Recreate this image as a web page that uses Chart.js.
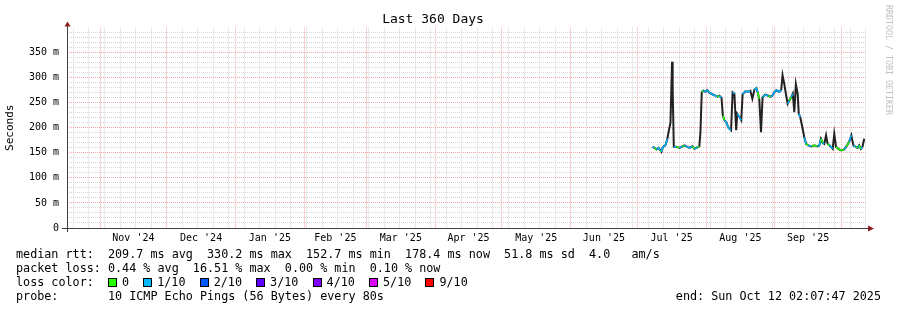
<!DOCTYPE html>
<html>
<head>
<meta charset="utf-8">
<script src="https://cdn.jsdelivr.net/npm/chart.js@4/dist/chart.umd.min.js"></script>
<style>
  body { margin: 0; background: #fff; }
  #app { position: relative; width: 897px; height: 310px; overflow: hidden; }
  #grafico { position: absolute; left: 0; top: 0; }
  .leg {
    position: absolute; left: 16px; white-space: pre; color: #000;
    font: 11.75px "DejaVu Sans Mono", monospace; line-height: 14px;
  }
  .caixa {
    display: inline-block; box-sizing: border-box; width: 9px; height: 9px;
    border: 1px solid #000; margin-right: 5px; vertical-align: -1px;
  }
</style>
</head>
<body>
<div id="app">
  <canvas id="grafico" width="897" height="310"></canvas>
  <div class="leg" style="top:247px">median rtt:  209.7 ms avg  330.2 ms max  152.7 ms min  178.4 ms now  51.8 ms sd  4.0   am/s</div>
  <div class="leg" style="top:261px">packet loss: 0.44 % avg  16.51 % max  0.00 % min  0.10 % now</div>
  <div class="leg" id="legPerda" style="top:275px"></div>
  <div class="leg" style="top:289px">probe:       10 ICMP Echo Pings (56 Bytes) every 80s</div>
  <div class="leg" style="top:289px; left:auto; right:16px">end: Sun Oct 12 02:07:47 2025</div>
</div>
<script>
// janela de 360 dias terminando em Sun Oct 12 02:07:47 2025
const inicio = Date.UTC(2024, 9, 17, 2, 7, 47);
const DIA = 86400000;
const totalDias = 360;

const meses = ["Nov '24", "Dec '24", "Jan '25", "Feb '25", "Mar '25", "Apr '25",
  "May '25", "Jun '25", "Jul '25", "Aug '25", "Sep '25"];
const inicioMeses = ["2024-11-01", "2024-12-01", "2025-01-01", "2025-02-01", "2025-03-01",
  "2025-04-01", "2025-05-01", "2025-06-01", "2025-07-01", "2025-08-01", "2025-09-01", "2025-10-01"];
const primeiroDomingo = "2024-10-20";

const valoresY = [0, 50, 100, 150, 200, 250, 300, 350];

const rotulosPerda = ["0", "1/10", "2/10", "3/10", "4/10", "5/10", "9/10"];
const coresPerda = ["#26ff00", "#00b8ff", "#0059ff", "#5e00ff", "#7e00ff", "#dd00ff", "#ff0000"];

// dias desde o inicio da janela
const dias = [
  263.8, 264.7, 265.6, 266.5, 267.4, 267.8, 268.5, 269.6, 270.5, 271.2, 271.9, 272.3, 272.6, 272.9,
  273.4, 274.6, 276.0, 277.3, 278.2, 279.5, 280.5, 281.8, 282.7, 284.0, 284.9, 285.4, 286.0, 286.7,
  287.6, 288.5, 289.4, 290.3, 291.7, 293.0, 293.9, 294.9, 295.5, 296.2, 297.1, 298.0, 299.2, 299.9,
  300.7, 301.5, 302.0, 302.9, 303.8, 304.4, 305.6, 307.0, 307.9, 308.8, 309.7, 310.6, 311.2, 311.9,
  312.7, 313.4, 314.6, 316.0, 316.9, 317.8, 318.7, 319.6, 321.0, 321.8, 322.4, 323.2, 323.9, 324.7,
  325.4, 326.3, 327.0, 327.7, 328.4, 329.2, 329.7, 330.4, 331.3, 332.2, 333.0, 334.0, 335.4, 336.7,
  338.1, 339.0, 339.7, 340.5, 341.2, 342.0, 342.7, 343.5, 344.2, 345.0, 345.7, 346.5, 347.5, 348.8,
  350.2, 351.0, 351.5, 352.4, 353.4, 354.3, 355.4, 356.2, 356.9, 357.7, 358.4, 359.2
];
// mediana do rtt em ms
const mediana = [
  162, 160, 157, 160, 155, 152, 162, 165, 178, 195, 210, 277, 332, 276,
  162, 162, 160, 163, 165, 162, 160, 163, 158, 161, 163, 191, 271, 274,
  272, 275, 270, 268, 265, 262, 264, 260, 224, 215, 211, 200, 195, 271,
  268, 195, 228, 222, 215, 267, 273, 272, 274, 258, 276, 279, 271, 258,
  191, 261, 266, 264, 262, 264, 271, 275, 272, 276, 305, 287, 268, 248,
  254, 261, 268, 231, 287, 268, 228, 221, 201, 181, 168, 165, 163, 165,
  163, 165, 178, 170, 168, 185, 168, 165, 162, 158, 188, 162, 158, 155,
  157, 162, 165, 172, 185, 165, 162, 160, 165, 158, 162, 178
];
// indice em coresPerda
const nivelPerda = [
  0, 1, 0, 1, 1, 0, 1, 1, 1, 1, 1, 2, 2, 2,
  1, 1, 0, 1, 0, 1, 1, 1, 0, 1, 0, 1, 0, 0,
  1, 1, 1, 1, 1, 1, 0, 1, 1, 0, 1, 1, 1, 0,
  1, 1, 0, 1, 1, 1, 1, 1, 1, 1, 1, 1, 1, 0,
  0, 1, 1, 1, 0, 1, 1, 1, 1, 1, 1, 1, 1, 1,
  1, 0, 1, 1, 1, 1, 1, 1, 1, 1, 1, 0, 1, 0,
  0, 1, 1, 0, 1, 1, 1, 0, 1, 1, 1, 0, 0, 0,
  0, 1, 0, 0, 1, 0, 1, 0, 1, 0, 1, 1
];

const corGrade = "#d6d6d6";
const corGradeMes = "#f3a6a6";
const corFumaca = "#222222";
const fonte = "DejaVu Sans Mono";

function paraDia(data) {
  return (Date.parse(data + "T00:00:00Z") - inicio) / DIA;
}

function montarLegendaPerda() {
  const el = document.getElementById("legPerda");
  el.innerHTML = "loss color:  " + rotulosPerda
    .map((r, i) => `<span class="caixa" style="background:${coresPerda[i]}"></span>${r}`)
    .join("  ");
}

function criarTicksX() {
  const mesesDias = inicioMeses.map(paraDia);
  const ticks = [];
  for (let d = paraDia(primeiroDomingo); d < totalDias; d += 7) {
    if (!mesesDias.some((m) => Math.abs(m - d) < 0.5)) ticks.push({ value: d, tipo: "semana" });
  }
  mesesDias.forEach((d) => ticks.push({ value: d, tipo: "mes" }));
  meses.forEach((m, i) => {
    ticks.push({ value: (mesesDias[i] + mesesDias[i + 1]) / 2, tipo: "rotulo", texto: m });
  });
  return ticks.sort((a, b) => a.value - b.value);
}

const eixosPlugin = {
  id: "eixos",
  afterDatasetsDraw(chart) {
    const { ctx, chartArea: a } = chart;
    const x0 = Math.round(a.left) + 0.5;
    const y0 = Math.round(a.bottom) + 0.5;
    ctx.save();
    ctx.strokeStyle = "#404040";
    ctx.lineWidth = 1;
    ctx.beginPath();
    ctx.moveTo(a.left - 5, y0);
    ctx.lineTo(a.right + 2, y0);
    ctx.moveTo(x0, a.bottom + 4);
    ctx.lineTo(x0, a.top - 2);
    ctx.stroke();
    ctx.fillStyle = "#8b1c1c";
    ctx.beginPath();
    ctx.moveTo(x0, a.top - 6);
    ctx.lineTo(x0 - 3, a.top - 1);
    ctx.lineTo(x0 + 3, a.top - 1);
    ctx.fill();
    ctx.beginPath();
    ctx.moveTo(a.right + 8, y0);
    ctx.lineTo(a.right + 2, y0 - 3);
    ctx.lineTo(a.right + 2, y0 + 3);
    ctx.fill();
    // marca d'agua
    ctx.fillStyle = "#c0c0c0";
    ctx.font = `8.3px "${fonte}"`;
    ctx.textBaseline = "middle";
    ctx.translate(888, 5);
    ctx.rotate(Math.PI / 2);
    ctx.fillText("RRDTOOL / TOBI OETIKER", 0, 0);
    ctx.restore();
  },
};

function criarGrafico() {
  const ctx = document.getElementById("grafico").getContext("2d");
  const pontos = dias.map((d, i) => ({ x: d, y: mediana[i] }));
  const ticksX = criarTicksX();

  new Chart(ctx, {
    type: "line",
    data: {
      datasets: [
        {
          label: "median rtt",
          data: pontos,
          order: 0,
          borderWidth: 1.5,
          pointRadius: 0,
          tension: 0,
          segment: {
            borderColor: (c) =>
              Math.abs(c.p1.parsed.y - c.p0.parsed.y) > 14
                ? "rgba(0,0,0,0)"
                : coresPerda[nivelPerda[c.p1DataIndex]],
          },
        },
        {
          label: "smoke",
          data: pontos,
          order: 1,
          borderColor: corFumaca,
          borderWidth: 2,
          pointRadius: 0,
          tension: 0,
        },
      ],
    },
    options: {
      responsive: false,
      animation: false,
      devicePixelRatio: 1,
      layout: { padding: { left: 0, right: 31, top: 0, bottom: 0 } },
      plugins: {
        legend: { display: false },
        tooltip: { enabled: false },
        title: {
          display: true,
          text: "Last 360 Days",
          color: "#000",
          font: { family: fonte, size: 13, weight: "normal" },
          padding: { top: 12, bottom: 0 },
        },
      },
      scales: {
        x: {
          type: "linear",
          min: 0,
          max: totalDias,
          afterBuildTicks: (eixo) => { eixo.ticks = ticksX; },
          afterFit: (eixo) => { eixo.height = 82; },
          grid: {
            drawTicks: false,
            color: (c) => (c.tick && c.tick.tipo === "mes" ? corGradeMes
              : c.tick && c.tick.tipo === "semana" ? corGrade : "rgba(0,0,0,0)"),
          },
          border: { display: false, dash: [1, 1] },
          ticks: {
            autoSkip: false,
            maxRotation: 0,
            minRotation: 0,
            padding: 4,
            color: "#000",
            font: { family: fonte, size: 10 },
            callback: (v, i, t) => (t[i].tipo === "rotulo" ? t[i].texto : ""),
          },
        },
        y: {
          min: 0,
          max: 400,
          afterFit: (eixo) => { eixo.width = 67; },
          title: {
            display: true,
            text: "Seconds",
            color: "#000",
            font: { family: fonte, size: 11 },
            padding: { top: 4, bottom: 0 },
          },
          grid: {
            drawTicks: false,
            color: (c) => {
              const v = c.tick ? c.tick.value : 0;
              if (v === 0 || v === 400) return "rgba(0,0,0,0)";
              return v % 50 === 0 ? corGradeMes : corGrade;
            },
          },
          border: { display: false, dash: [1, 1] },
          ticks: {
            stepSize: 10,
            autoSkip: false,
            padding: 8,
            color: "#000",
            font: { family: fonte, size: 10 },
            callback: (v) => (valoresY.includes(v) ? (v === 0 ? "0" : v + " m") : ""),
          },
        },
      },
    },
    plugins: [eixosPlugin],
  });
}

document.addEventListener("DOMContentLoaded", () => {
  montarLegendaPerda();
  criarGrafico();
});
</script>
</body>
</html>
